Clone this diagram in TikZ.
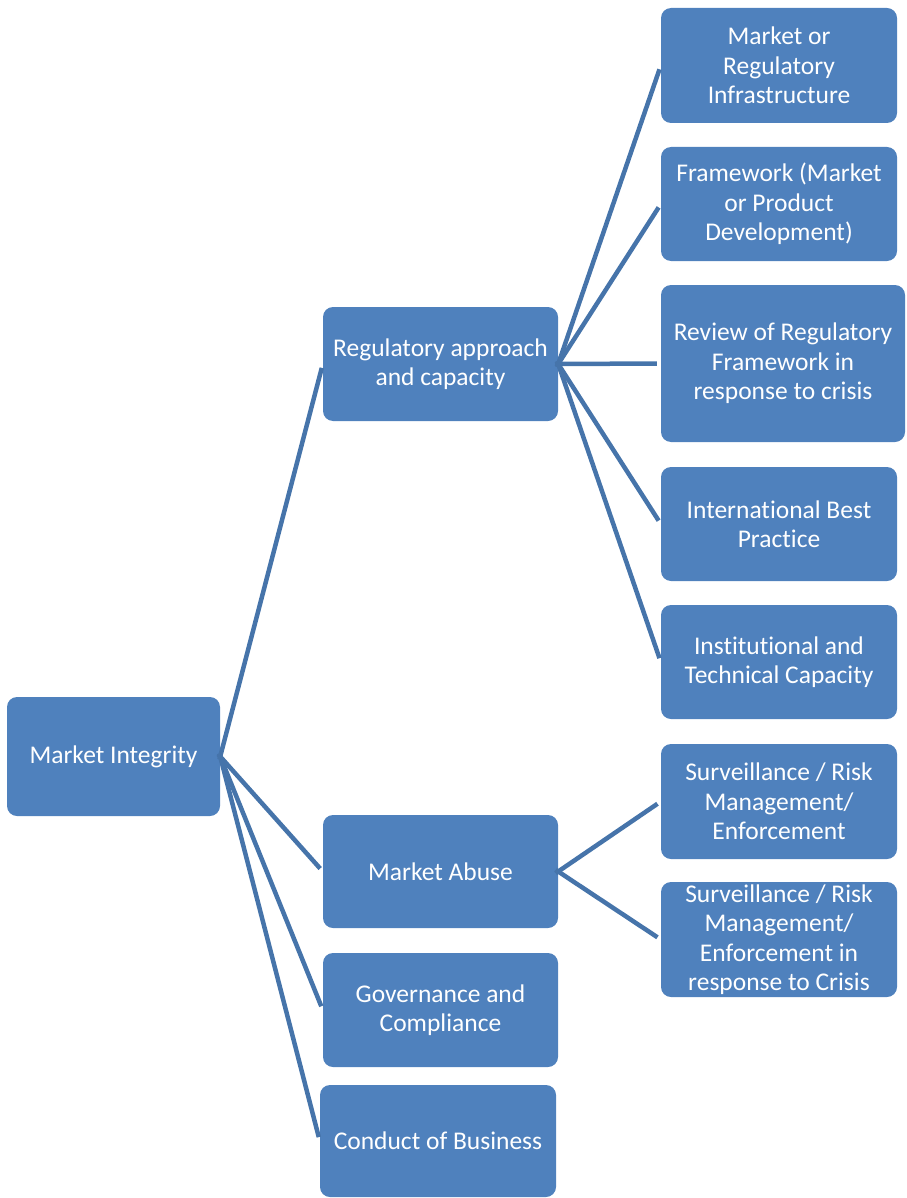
\documentclass[tikz,border=0pt]{standalone}
\usepackage{fontspec}
\setmainfont{Carlito}[Ligatures=NoCommon]
\definecolor{boxblue}{RGB}{79,129,189}
\definecolor{lineblue}{RGB}{70,116,170}
\tikzset{
	box/.style={fill=boxblue, rounded corners=10pt, text=white, align=center, inner sep=0pt,
		font=\fontsize{25.5}{29.5}\selectfont},
	link/.style={draw=lineblue, line width=4.5pt, shorten >=4pt, shorten <=-3pt}
}
\begin{document}
\begin{tikzpicture}[x=1pt,y=-1pt]
		\useasboundingbox (0,0) rectangle (906,1198);
		\node[box, minimum width=213pt, minimum height=119pt] (mi) at (113.5,756.5) {Market Integrity};
		\node[box, minimum width=235pt, minimum height=114pt] (reg) at (440.5,364) {Regulatory approach\\and capacity};
		\node[box, minimum width=235pt, minimum height=113pt] (abuse) at (440.5,871.5) {Market Abuse};
		\node[box, minimum width=235pt, minimum height=114pt] (gov) at (440.5,1010) {Governance and\\Compliance};
		\node[box, minimum width=236pt, minimum height=112pt] (cob) at (438,1141) {Conduct of Business};
		\node[box, minimum width=236pt, minimum height=115pt] (infra) at (779,65.5) {Market or\\Regulatory\\Infrastructure};
		\node[box, minimum width=236pt, minimum height=114pt] (frame) at (779,204) {Framework (Market\\or Product\\Development)};
		\node[box, minimum width=244pt, minimum height=157pt] (review) at (783,363.5) {Review of Regulatory\\Framework in\\response to crisis};
		\node[box, minimum width=236pt, minimum height=114pt] (intl) at (779,524) {International Best\\Practice};
		\node[box, minimum width=236pt, minimum height=114pt] (inst) at (779,662) {Institutional and\\Technical Capacity};
		\node[box, minimum width=236pt, minimum height=115pt] (surv) at (779,801.5) {Surveillance / Risk\\Management/\\Enforcement};
		\node[box, minimum width=236pt, minimum height=115pt] (survc) at (779,939.5) {Surveillance / Risk\\Management/\\Enforcement in\\response to Crisis};
		\draw[link] (mi.east) -- (reg.west);
		\draw[link] (mi.east) -- (abuse.west);
		\draw[link] (mi.east) -- (gov.west);
		\draw[link] (mi.east) -- (cob.west);
		\draw[link] (reg.east) -- (infra.west);
		\draw[link] (reg.east) -- (frame.west);
		\draw[link] (reg.east) -- (review.west);
		\draw[link] (reg.east) -- (intl.west);
		\draw[link] (reg.east) -- (inst.west);
		\draw[link] (abuse.east) -- (surv.west);
		\draw[link] (abuse.east) -- (survc.west);
	\end{tikzpicture}
\end{document}
